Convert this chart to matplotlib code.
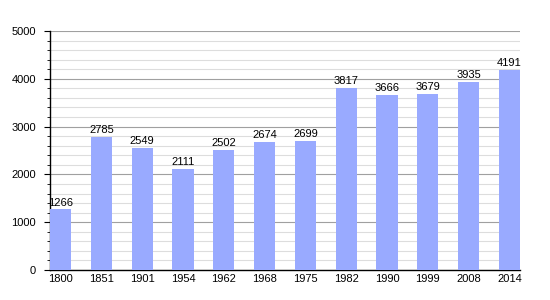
import matplotlib
matplotlib.use("Agg")
import matplotlib.pyplot as plt
from matplotlib.ticker import MultipleLocator

years = ["1800", "1851", "1901", "1954", "1962", "1968", "1975", "1982", "1990", "1999", "2008", "2014"]
population = [1266, 2785, 2549, 2111, 2502, 2674, 2699, 3817, 3666, 3679, 3935, 4191]

plt.rcParams['font.family'] = ['Liberation Sans', 'DejaVu Sans']

fig = plt.figure(figsize=(5.5, 3), dpi=100)
ax = fig.add_axes([50 / 550, 0.1, 470 / 550, 239 / 300])

x = list(range(len(years)))
ax.bar(x, population, width=0.52, color='#99aaff', zorder=3)
for xi, v in zip(x, population):
    ax.text(xi, v + 40, str(v), ha='center', va='bottom', fontsize=8, zorder=4)

ax.set_xlim(-0.26, len(years) - 1 + 0.26)
ax.set_ylim(0, 5000)
ax.set_xticks(x)
ax.set_xticklabels(years)
ax.yaxis.set_major_locator(MultipleLocator(1000))
ax.yaxis.set_minor_locator(MultipleLocator(200))
ax.grid(axis='y', which='major', color='#a0a0a0', linewidth=0.8, zorder=1)
ax.grid(axis='y', which='minor', color='#dddddd', linewidth=0.8, zorder=0)

for s in ['top', 'right']:
    ax.spines[s].set_visible(False)
ax.spines['left'].set_linewidth(1)
ax.spines['bottom'].set_linewidth(1)
ax.tick_params(axis='x', length=0, labelsize=8, pad=3)
ax.tick_params(axis='y', which='major', length=4, labelsize=8, pad=6)
ax.tick_params(axis='y', which='minor', length=2)

fig.savefig("out.png", dpi=100)
